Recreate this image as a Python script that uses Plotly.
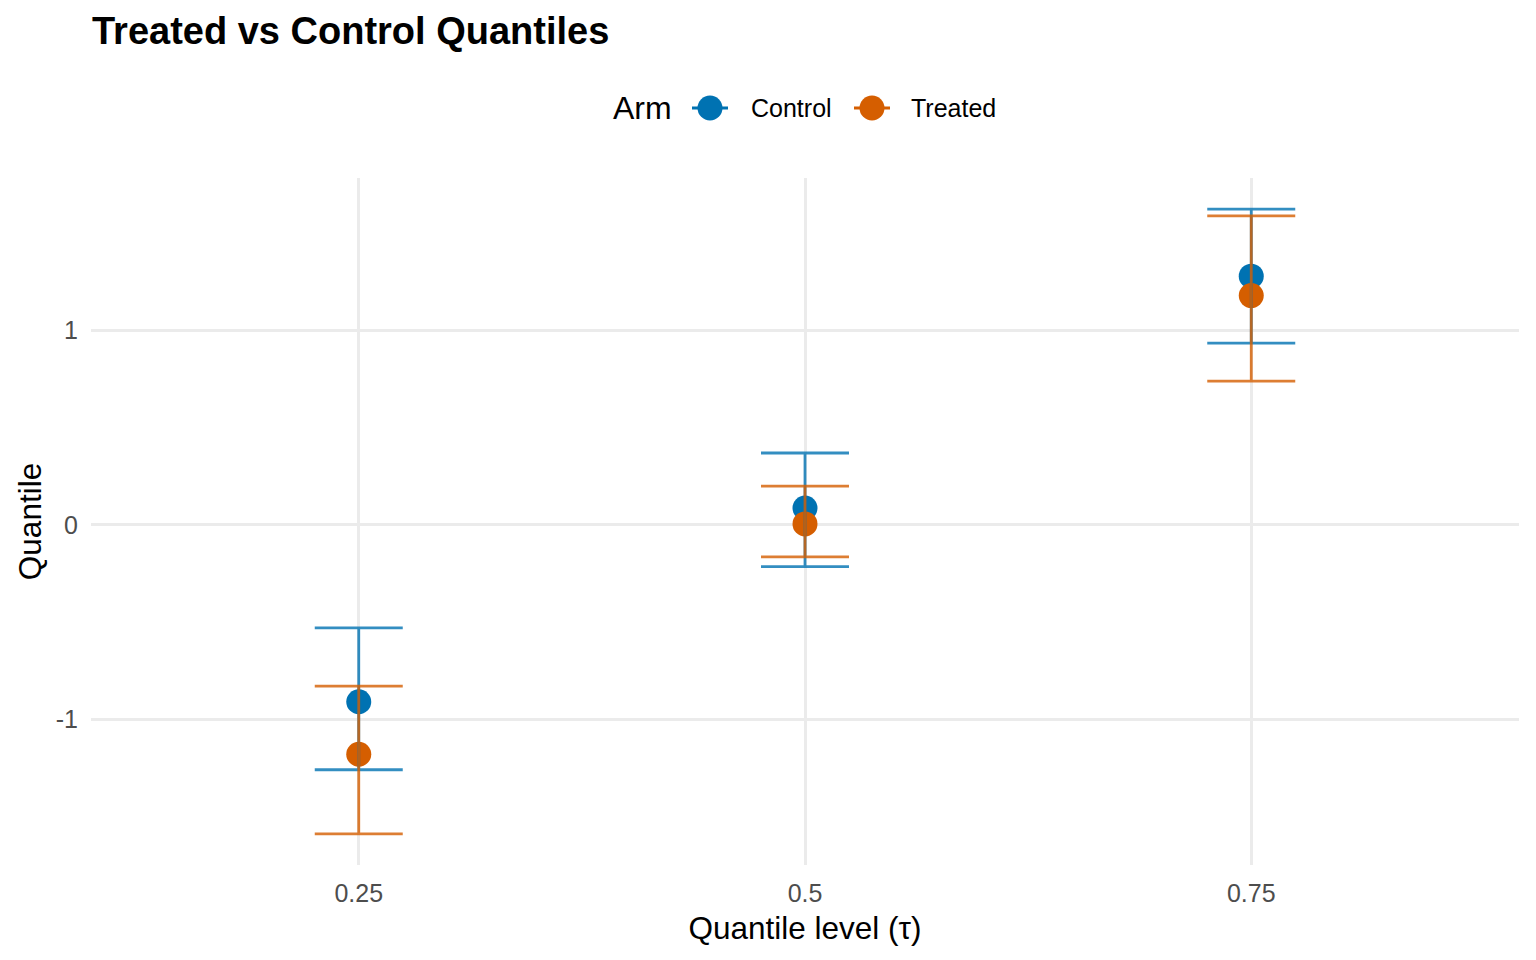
import plotly.graph_objects as go

tau_levels = ["0.25", "0.5", "0.75"]
control_q = [-0.91, 0.087, 1.28]
control_lo = [-1.26, -0.215, 0.935]
control_hi = [-0.53, 0.37, 1.625]
treated_q = [-1.18, 0.005, 1.18]
treated_lo = [-1.59, -0.165, 0.74]
treated_hi = [-0.83, 0.20, 1.59]
arms = ["Control", "Treated"]

C_COL = "#0072B2"
T_COL = "#D55E00"
C_BAR = "rgba(0,114,178,0.8)"
T_BAR = "rgba(213,94,0,0.8)"

FONT = "Liberation Sans, Arial, sans-serif"

# figure geometry (page has 8px body margin)
W, H = 1528, 952
ML, MR, MT, MB = 83, 17, 170, 95
PW, PH = W - ML - MR, H - MT - MB


def px_x(x):
    return (x - ML) / PW


def px_y(y):
    return 1 + (MT - y) / PH


fig = go.Figure()

# points first
fig.add_trace(go.Scatter(x=tau_levels, y=control_q, mode="markers", name=arms[0],
                         marker=dict(color=C_COL, size=25), showlegend=False, hoverinfo="skip"))
fig.add_trace(go.Scatter(x=tau_levels, y=treated_q, mode="markers", name=arms[1],
                         marker=dict(color=T_COL, size=25), showlegend=False, hoverinfo="skip"))

# error bars on top
for q, lo, hi, col in [(control_q, control_lo, control_hi, C_BAR),
                       (treated_q, treated_lo, treated_hi, T_BAR)]:
    fig.add_trace(go.Scatter(
        x=tau_levels, y=q, mode="markers",
        marker=dict(opacity=0, size=1),
        error_y=dict(type="data", symmetric=False,
                     array=[h - v for h, v in zip(hi, q)],
                     arrayminus=[v - l for v, l in zip(q, lo)],
                     color=col, thickness=2.8, width=44),
        showlegend=False, hoverinfo="skip"))

# manual legend (ggplot-style)
LEG_Y = px_y(100)
shapes = []
annotations = [dict(text="Arm", xref="paper", yref="paper", x=px_x(603), y=LEG_Y,
                    xanchor="left", yanchor="middle", showarrow=False,
                    font=dict(size=32, color="black"))]
for name, col, cx, tx in [(arms[0], C_COL, 702, 741), (arms[1], T_COL, 864, 901)]:
    shapes.append(dict(type="line", xref="paper", yref="paper", xsizemode="pixel", ysizemode="pixel",
                       xanchor=px_x(cx), yanchor=LEG_Y, x0=-18, x1=18, y0=0, y1=0,
                       line=dict(color=col, width=3)))
    shapes.append(dict(type="circle", xref="paper", yref="paper", xsizemode="pixel", ysizemode="pixel",
                       xanchor=px_x(cx), yanchor=LEG_Y, x0=-12.5, x1=12.5, y0=-12.5, y1=12.5,
                       fillcolor=col, line=dict(width=0)))
    annotations.append(dict(text=name, xref="paper", yref="paper", x=px_x(tx), y=LEG_Y,
                            xanchor="left", yanchor="middle", showarrow=False,
                            font=dict(size=25, color="black")))

fig.update_layout(
    width=W, height=H,
    paper_bgcolor="white", plot_bgcolor="white",
    margin=dict(l=ML, r=MR, t=MT, b=MB),
    font=dict(family=FONT, color="black"),
    showlegend=False,
    title=dict(text="<b>Treated vs Control Quantiles</b>", font=dict(size=38, color="black"),
               xref="container", x=84/W, xanchor="left",
               yref="container", y=1-23/H, yanchor="middle"),
    shapes=shapes,
    annotations=annotations,
    xaxis=dict(type="category", categoryorder="array", categoryarray=tau_levels,
               range=[-0.6, 2.6], showgrid=True, gridcolor="#EBEBEB", gridwidth=2.5,
               zeroline=False, showline=False, ticks="", ticklabelstandoff=11,
               tickfont=dict(size=25, color="#4D4D4D"),
               title=dict(text="Quantile level (τ)", font=dict(size=31.5), standoff=10)),
    yaxis=dict(range=[-1.75, 1.785], tickvals=[-1, 0, 1], ticktext=["-1", "0", "1"],
               showgrid=True, gridcolor="#EBEBEB", gridwidth=2.5,
               zeroline=False, showline=False, ticks="", ticklabelstandoff=12,
               tickfont=dict(size=25, color="#4D4D4D"),
               title=dict(text="Quantile", font=dict(size=31.5), standoff=4)),
)

fig.write_html("out.html")
